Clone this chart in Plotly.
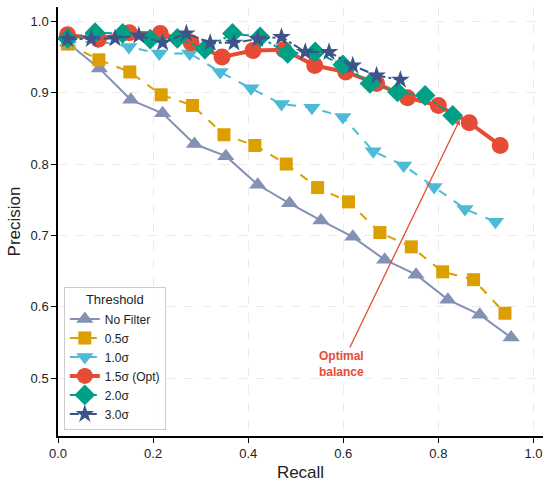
import plotly.graph_objects as go

# recall / precision per threshold
recall_none = [0.02, 0.087, 0.153, 0.22, 0.287, 0.353, 0.42, 0.487, 0.553, 0.62, 0.687, 0.753, 0.82, 0.887, 0.953]
prec_none = [0.970, 0.934, 0.890, 0.871, 0.828, 0.811, 0.771, 0.745, 0.721, 0.698, 0.666, 0.645, 0.610, 0.589, 0.557]

recall_05 = [0.02, 0.086, 0.151, 0.217, 0.283, 0.349, 0.414, 0.48, 0.546, 0.611, 0.677, 0.743, 0.809, 0.874, 0.94]
prec_05 = [0.968, 0.946, 0.929, 0.897, 0.882, 0.841, 0.826, 0.800, 0.767, 0.747, 0.704, 0.684, 0.649, 0.638, 0.591]

recall_10 = [0.02, 0.084, 0.149, 0.213, 0.277, 0.341, 0.406, 0.47, 0.534, 0.599, 0.663, 0.727, 0.791, 0.856, 0.92]
prec_10 = [0.970, 0.972, 0.964, 0.955, 0.955, 0.929, 0.906, 0.884, 0.879, 0.866, 0.818, 0.798, 0.768, 0.737, 0.719]

recall_15 = [0.02, 0.085, 0.15, 0.215, 0.28, 0.345, 0.41, 0.475, 0.54, 0.605, 0.67, 0.735, 0.8, 0.865, 0.93]
prec_15 = [0.981, 0.975, 0.984, 0.983, 0.970, 0.950, 0.959, 0.960, 0.938, 0.929, 0.913, 0.893, 0.882, 0.858, 0.826]

recall_20 = [0.02, 0.078, 0.136, 0.194, 0.251, 0.309, 0.367, 0.425, 0.483, 0.541, 0.599, 0.656, 0.714, 0.772, 0.83]
prec_20 = [0.976, 0.984, 0.983, 0.975, 0.976, 0.961, 0.983, 0.978, 0.955, 0.957, 0.939, 0.913, 0.901, 0.896, 0.868]

recall_30 = [0.02, 0.07, 0.12, 0.17, 0.22, 0.27, 0.32, 0.37, 0.42, 0.47, 0.52, 0.57, 0.62, 0.67, 0.72]
prec_30 = [0.975, 0.975, 0.976, 0.980, 0.970, 0.983, 0.970, 0.970, 0.975, 0.978, 0.957, 0.957, 0.938, 0.924, 0.918]

series = [
	("No Filter", recall_none, prec_none, "#8491B4", "solid", 2, "triangle-up", 15),
	("0.5σ", recall_05, prec_05, "#DC9E00", "dash", 2, "square", 13),
	("1.0σ", recall_10, prec_10, "#4DBBD5", "dash", 2, "triangle-down", 15),
	("1.5σ (Opt)", recall_15, prec_15, "#E64B35", "solid", 4, "circle", 17),
	("2.0σ", recall_20, prec_20, "#00A087", "dashdot", 2, "diamond", 16),
	("3.0σ", recall_30, prec_30, "#3C5488", "dashdot", 2, "star", 14),
]

fig = go.Figure()
for name, x, y, color, dash, width, symbol, size in series:
	fig.add_trace(go.Scatter(
		x=x, y=y, name=name, mode="lines+markers",
		line=dict(color=color, dash=dash, width=width),
		marker=dict(symbol=symbol, size=size, color=color),
	))

fig.add_annotation(
	x=recall_15[13] - 0.02, y=prec_15[13] + 0.004,
	ax=0.597, ay=0.52, xref="x", yref="y", axref="x", ayref="y",
	text="<b>Optimal<br>balance</b>", showarrow=True,
	arrowhead=2, arrowsize=0.8, arrowwidth=1.3, arrowcolor="#E64B35",
	font=dict(color="#E64B35", size=12, family="Liberation Sans, Arial"),
	align="center",
)

axis_style = dict(
	showline=True, linecolor="black", linewidth=1.5, mirror=False,
	ticks="outside", ticklen=5, tickwidth=1.3, tickcolor="black",
	showgrid=True, gridcolor="#EBEBEB", griddash="dash", gridwidth=1,
	zeroline=False, tickfont=dict(size=13, color="#222"),
)

fig.update_layout(
	width=550, height=485,
	margin=dict(l=58, r=7, t=7, b=49),
	plot_bgcolor="white", paper_bgcolor="white",
	font=dict(family="Liberation Sans, Arial, sans-serif", color="#222"),
	xaxis=dict(title=dict(text="Recall", font=dict(size=17), standoff=6),
			   range=[0, 1.02], tickvals=[0, 0.2, 0.4, 0.6, 0.8, 1.0],
			   ticktext=["0.0", "0.2", "0.4", "0.6", "0.8", "1.0"], **axis_style),
	yaxis=dict(title=dict(text="Precision", font=dict(size=17), standoff=6),
			   range=[0.419, 1.02], tickvals=[0.5, 0.6, 0.7, 0.8, 0.9, 1.0],
			   ticktext=["0.5", "0.6", "0.7", "0.8", "0.9", "1.0"], **axis_style),
	legend=dict(
		title=dict(text="Threshold", side="top center", font=dict(size=13)),
		x=0.012, y=0.015, xanchor="left", yanchor="bottom",
		bgcolor="rgba(255,255,255,0.85)", bordercolor="#CCCCCC", borderwidth=1,
		font=dict(size=12), tracegroupgap=0, itemwidth=30,
	),
	showlegend=True,
)

fig.write_html(
	"out.html",
	config={"displayModeBar": False},
	post_script="document.body.style.margin='0';",
)
